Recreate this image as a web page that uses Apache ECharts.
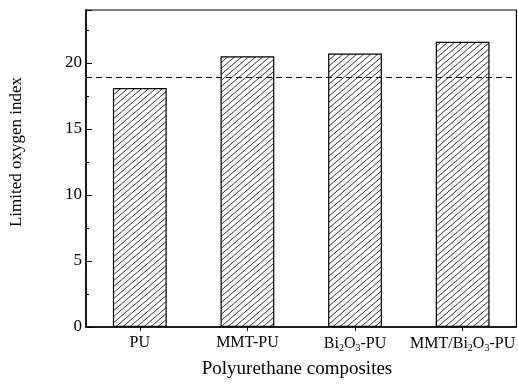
<!DOCTYPE html>
<html>
<head>
<meta charset="utf-8">
<script src="https://cdn.jsdelivr.net/npm/echarts@6/dist/echarts.min.js"></script>
<style>
  html, body { margin: 0; padding: 0; background: #fff; }
  #chart { width: 518px; height: 384px; }
</style>
</head>
<body>
<div id="chart"></div>
<script>
// Limited oxygen index of polyurethane composites
const categories = ['PU', 'MMT-PU', 'Bi2O3-PU', 'MMT/Bi2O3-PU'];
const loiValues = [18.1, 20.5, 20.7, 21.6];
const referenceLine = 18.9;
const yTicks = [0, 5, 10, 15, 20];

// diagonal hatch tile for the bars
function hatchTile() {
  const c = document.createElement('canvas');
  const w = 7, h = 6;
  c.width = w; c.height = h;
  const g = c.getContext('2d');
  g.fillStyle = '#fff';
  g.fillRect(0, 0, w, h);
  g.strokeStyle = '#000';
  g.lineWidth = 0.8;
  g.beginPath();
  g.moveTo(-w, 2 * h); g.lineTo(2 * w, -h);
  g.moveTo(-2 * w, 2 * h); g.lineTo(w, -h);
  g.moveTo(0, 2 * h); g.lineTo(3 * w, -h);
  g.stroke();
  return c;
}

const serif = '"Liberation Serif", "DejaVu Serif", serif';

function catLabel(v) {
  return v.replace('Bi2O3', 'Bi{s|2}O{s|3}');
}

const chart = echarts.init(document.getElementById('chart'), null, { renderer: 'canvas' });
chart.setOption({
  animation: false,
  backgroundColor: '#fff',
  grid: {
    left: 86, right: 0, top: 10, bottom: 57,
    show: true, borderColor: '#000', borderWidth: 1.2, backgroundColor: 'transparent'
  },
  xAxis: {
    type: 'category',
    data: categories,
    boundaryGap: true,
    axisLine: { lineStyle: { color: '#000', width: 1.5 } },
    axisTick: { show: true, alignWithLabel: true, interval: 0, length: 4, lineStyle: { color: '#000' } },
    axisLabel: {
      interval: 0,
      color: '#000', fontFamily: serif, fontSize: 16, margin: 8,
      formatter: catLabel,
      rich: { s: { fontSize: 10, fontFamily: serif, color: '#000', padding: [8, 0, 0, 0] } }
    }
  },
  yAxis: {
    type: 'value',
    min: 0, max: 24, interval: 5,
    axisLine: { show: true, lineStyle: { color: '#000', width: 1.5 } },
    axisTick: { show: true, inside: true, length: 6, lineStyle: { color: '#000' } },
    minorTick: { show: true, splitNumber: 2, length: 3, lineStyle: { color: '#000' } },
    splitLine: { show: false },
    axisLabel: {
      color: '#000', fontFamily: serif, fontSize: 17, margin: 4,
      formatter: function (v) { return yTicks.indexOf(v) >= 0 ? String(v) : ''; }
    }
  },
  graphic: [
    {
      type: 'text', rotation: Math.PI / 2, x: 17, y: 152,
      style: { text: 'Limited oxygen index', font: '17px ' + serif, fill: '#000', align: 'center', verticalAlign: 'middle' }
    },
    {
      type: 'text', x: 297, y: 369,
      style: { text: 'Polyurethane composites', font: '19px ' + serif, fill: '#000', align: 'center', verticalAlign: 'middle' }
    }
  ],
  series: [{
    type: 'bar',
    data: loiValues,
    barWidth: '50%',
    itemStyle: {
      color: { image: hatchTile(), repeat: 'repeat' },
      borderColor: '#000', borderWidth: 1.2
    },
    markLine: {
      silent: true,
      symbol: ['none', 'none'],
      label: { show: false },
      lineStyle: { color: '#000', type: [6, 4], width: 1.2 },
      data: [{ yAxis: referenceLine }]
    }
  }]
});
</script>
</body>
</html>
